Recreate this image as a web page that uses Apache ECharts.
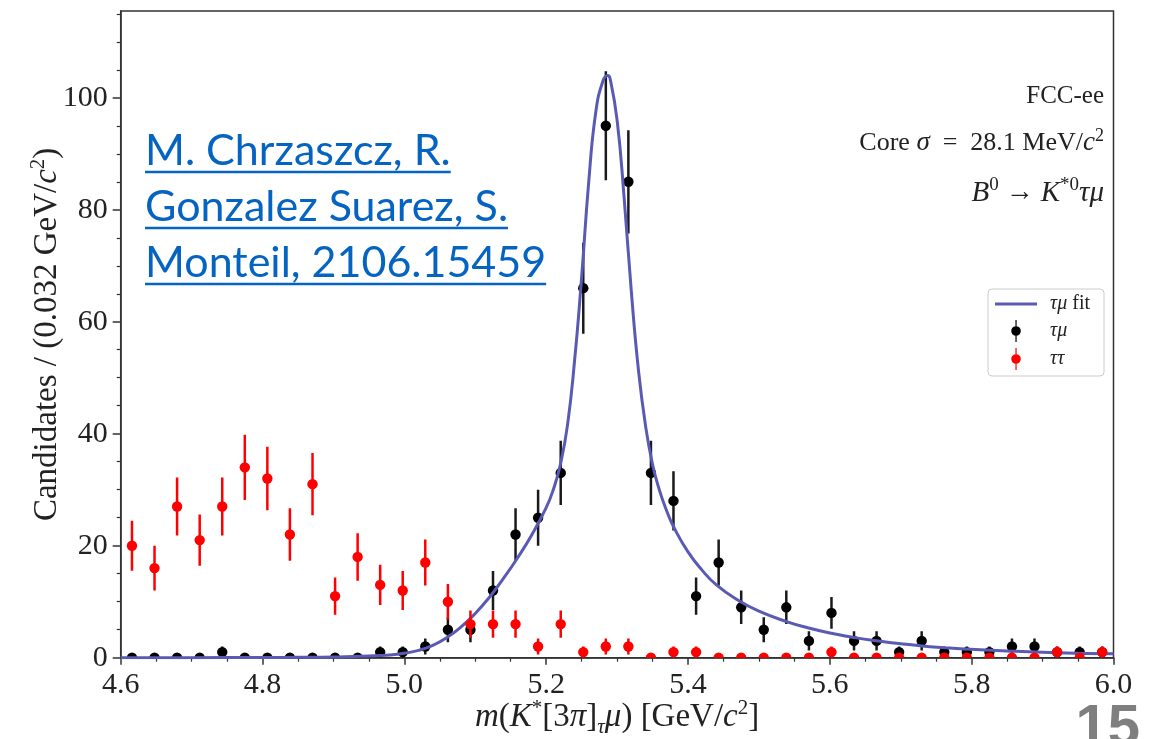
<!DOCTYPE html>
<html>
<head>
<meta charset="utf-8">
<script src="https://cdn.jsdelivr.net/npm/echarts@6/dist/echarts.min.js"></script>
<style>
    html, body { margin: 0; padding: 0; background: #fff; }
    #main { width: 1150px; height: 739px; }
</style>
</head>
<body>
<div id="main"></div>
<script>
// bin centres, 44 bins of 0.0318 GeV between 4.6 and 6.0
var binCenters = [4.6159, 4.6477, 4.6795, 4.7114, 4.7432, 4.7750, 4.8068, 4.8386, 4.8705, 4.9023,
    4.9341, 4.9659, 4.9977, 5.0295, 5.0614, 5.0932, 5.1250, 5.1568, 5.1886, 5.2205,
    5.2523, 5.2841, 5.3159, 5.3477, 5.3795, 5.4114, 5.4432, 5.4750, 5.5068, 5.5386,
    5.5705, 5.6023, 5.6341, 5.6659, 5.6977, 5.7295, 5.7614, 5.7932, 5.8250, 5.8568,
    5.8886, 5.9205, 5.9523, 5.9841];
// tau mu candidates (black)
var tauMuCounts = [0, 0, 0, 0, 1, 0, 0, 0, 0, 0,
    0, 1, 1, 2, 5, 5, 12, 22, 25, 33,
    66, 95, 85, 33, 28, 11, 17, 9, 5, 9,
    3, 8, 3, 3, 1, 3, 1, 1, 1, 2,
    2, 1, 1, 1];
// tau tau candidates (red)
var tauTauCounts = [20, 16, 27, 21, 27, 34, 32, 22, 31, 11,
    18, 13, 12, 17, 10, 6, 6, 6, 2, 6,
    1, 2, 2, 0, 1, 1, 0, 0, 0, 0,
    0, 1, 0, 0, 0, 0, 0, 0, 0, 0,
    0, 1, 0, 1];
// fit curve
var fitMass = [4.60, 4.70, 4.80, 4.85, 4.90, 4.95, 4.98, 5.00, 5.02, 5.04,
    5.06, 5.08, 5.10, 5.12, 5.14, 5.16, 5.18, 5.20, 5.21, 5.22,
    5.23, 5.24, 5.25, 5.26, 5.27, 5.28, 5.2865, 5.29, 5.30, 5.31,
    5.32, 5.33, 5.34, 5.35, 5.36, 5.37, 5.38, 5.40, 5.42, 5.44,
    5.47, 5.50, 5.54, 5.57, 5.60, 5.63, 5.66, 5.70, 5.73, 5.76,
    5.79, 5.85, 5.92, 6.00];
var fitCandidates = [0.0, 0.01, 0.03, 0.06, 0.13, 0.3, 0.5, 0.8, 1.3, 2.2,
    3.6, 5.5, 7.9, 10.8, 14.2, 17.9, 22.0, 26.8, 30.0, 34.5,
    41.5, 53, 68, 85, 97.5, 103, 104, 103.5, 96, 82,
    65.5, 51.5, 41.5, 34.5, 29.8, 26.2, 23.3, 18.9, 15.6, 13.0,
    10.3, 8.3, 6.4, 5.3, 4.4, 3.7, 3.1, 2.5, 2.1, 1.8,
    1.55, 1.2, 0.9, 0.7];
var yMajorTicks = [0, 20, 40, 60, 80, 100];
var yMinorTicks = [5, 10, 15, 25, 30, 35, 45, 50, 55, 65, 70, 75, 85, 90, 95, 105, 110, 115];
var linkLines = ['M. Chrzaszcz, R.', 'Gonzalez Suarez, S.', 'Monteil, 2106.15459'];

var serif = '"Liberation Serif", "DejaVu Serif", serif';
var textColor = '#222';
var axisColor = '#333';
var fitColor = '#5a5ab4';

var myChart = echarts.init(document.getElementById('main'));

function toPoints(counts) {
    return binCenters.map(function(x, i) {
        return [x, counts[i], Math.sqrt(counts[i])];
    });
}

function errorBarItem(dotColor, barColor) {
    return function(params, api) {
        var x = api.value(0), y = api.value(1), e = api.value(2);
        var c = api.coord([x, y]);
        var children = [];
        if (e > 0) {
            var lo = api.coord([x, y - e]);
            var hi = api.coord([x, y + e]);
            children.push({
                type: 'line',
                shape: { x1: lo[0], y1: lo[1], x2: hi[0], y2: hi[1] },
                style: { stroke: barColor, lineWidth: 2.5 }
            });
        }
        children.push({
            type: 'circle',
            shape: { cx: c[0], cy: c[1], r: 5.2 },
            style: { fill: dotColor }
        });
        return { type: 'group', children: children };
    };
}

// underline widths for the reference text
var linkFont = '43px Lato';
var ctx = document.createElement('canvas').getContext('2d');
ctx.font = linkFont;
var linkBase = [151, 207, 263];
var linkGraphics = [];
linkLines.forEach(function(t, i) {
    var w = ctx.measureText(t).width;
    linkGraphics.push({
        type: 'text', x: 145, y: linkBase[i],
        style: { text: t, font: linkFont, fill: '#0563c1', verticalAlign: 'middle' }
    });
    linkGraphics.push({
        type: 'line',
        shape: { x1: 145, y1: linkBase[i] + 21, x2: 145 + w, y2: linkBase[i] + 21 },
        style: { stroke: '#0563c1', lineWidth: 2.5 }
    });
});

var errIcon = 'path://M4.4,0 L5.6,0 L5.6,22 L4.4,22 Z M5,6.2 A4.8,4.8 0 1 1 4.99,6.2 Z';
var lineIcon = 'path://M0,0 L42,0 L42,3 L0,3 Z';

var nameRich = {
    i: { fontFamily: serif, fontStyle: 'italic', fontSize: 33, color: textColor, lineHeight: 40 },
    sup: { fontFamily: serif, fontSize: 21, color: textColor, verticalAlign: 'top', lineHeight: 21 },
    sub: { fontFamily: serif, fontStyle: 'italic', fontSize: 21, color: textColor, verticalAlign: 'bottom', lineHeight: 21 }
};

var option = {
    animation: false,
    backgroundColor: '#fff',
    grid: {
        left: 120.7,
        right: 36.5,
        top: 11,
        bottom: 81.3,
        outerBoundsMode: 'none',
        show: true,
        borderColor: axisColor,
        borderWidth: 1.5,
        backgroundColor: 'transparent'
    },
    legend: {
        orient: 'vertical',
        right: 46,
        top: 289,
        itemWidth: 42,
        itemHeight: 22,
        itemGap: 6,
        padding: [5, 14, 6, 7],
        borderColor: '#ccc',
        borderWidth: 1,
        borderRadius: 4,
        backgroundColor: '#fff',
        selectedMode: false,
        data: [{ name: 'τμ fit', icon: lineIcon }, { name: 'τμ', icon: errIcon }, { name: 'ττ', icon: errIcon }],
        formatter: function(name) {
            return name === 'τμ fit' ? '{i|τμ} fit' : '{i|' + name + '}';
        },
        textStyle: {
            fontFamily: serif,
            fontSize: 20,
            color: textColor,
            padding: [0, 0, 0, 8],
            rich: {
                i: { fontFamily: serif, fontStyle: 'italic', fontSize: 20, color: textColor }
            }
        }
    },
    xAxis: {
        type: 'value',
        min: 4.6,
        max: 6.0,
        interval: 0.2,
        name: '{i|m}({i|K}{sup|*}[3{i|π}]{sub|τ}{i|μ}) [GeV/{i|c}{sup|2}]',
        nameLocation: 'middle',
        nameGap: 40,
        nameMoveOverlap: false,
        nameTextStyle: { fontFamily: serif, fontSize: 33, color: textColor, lineHeight: 40, rich: nameRich },
        axisLine: { lineStyle: { color: axisColor, width: 1.5 } },
        axisTick: { length: 7, lineStyle: { color: axisColor, width: 1.5 } },
        minorTick: { show: true, splitNumber: 4, length: 4, lineStyle: { color: axisColor, width: 1.2 } },
        splitLine: { show: false },
        axisLabel: {
            fontFamily: serif, fontSize: 30, color: textColor, margin: 12,
            formatter: function(v) { return v.toFixed(1); }
        }
    },
    yAxis: [{
        type: 'value',
        min: 0,
        max: 115.5,
        name: 'Candidates / (0.032 GeV/{i|c}{sup|2})',
        nameLocation: 'middle',
        nameRotate: 90,
        nameGap: 53,
        nameMoveOverlap: false,
        nameTextStyle: { fontFamily: serif, fontSize: 33, color: textColor, lineHeight: 40, rich: nameRich },
        axisLine: { lineStyle: { color: axisColor, width: 1.5 } },
        axisTick: { length: 8, customValues: yMajorTicks, lineStyle: { color: axisColor, width: 1.5 } },
        splitLine: { show: false },
        axisLabel: { customValues: yMajorTicks, fontFamily: serif, fontSize: 30, color: textColor, margin: 13 }
    }, {
        type: 'value',
        min: 0,
        max: 115.5,
        position: 'left',
        axisLine: { show: false },
        axisTick: { length: 4, customValues: yMinorTicks, lineStyle: { color: axisColor, width: 1.2 } },
        axisLabel: { show: false },
        splitLine: { show: false }
    }],
    graphic: linkGraphics.concat([
        {
            type: 'text', x: 1104, y: 96,
            style: { text: 'FCC-ee', font: '25px ' + serif, fill: textColor, align: 'right', verticalAlign: 'middle' }
        },
        {
            type: 'text', x: 1104, y: 143,
            style: {
                text: 'Core {i|σ}  =  28.1 MeV/{i|c}{sup|2}',
                font: '26px ' + serif, fill: textColor, align: 'right', verticalAlign: 'middle',
                lineHeight: 32,
                rich: {
                    i: { fontFamily: serif, fontStyle: 'italic', fontSize: 27, fill: textColor, lineHeight: 32 },
                    sup: { fontFamily: serif, fontSize: 18, fill: textColor, verticalAlign: 'top', lineHeight: 18 }
                }
            }
        },
        {
            type: 'text', x: 1104, y: 193,
            style: {
                text: '{i|B}{sup|0} → {i|K}{sup|*0}{i|τμ}',
                font: '28px ' + serif, fill: textColor, align: 'right', verticalAlign: 'middle',
                lineHeight: 34,
                rich: {
                    i: { fontFamily: serif, fontStyle: 'italic', fontSize: 29, fill: textColor, lineHeight: 34 },
                    sup: { fontFamily: serif, fontSize: 19, fill: textColor, verticalAlign: 'top', lineHeight: 19 }
                }
            }
        },
        {
            type: 'text', x: 1140, y: 729,
            style: { text: '15', font: 'bold 58px "Liberation Sans"', fill: '#7f7f7f', align: 'right', verticalAlign: 'middle' }
        }
    ]),
    series: [{
            name: 'τμ fit',
            type: 'line',
            data: fitMass.map(function(x, i) { return [x, fitCandidates[i]]; }),
            showSymbol: false,
            symbol: 'none',
            smooth: 0.5,
            color: fitColor,
            lineStyle: { color: fitColor, width: 3 },
            z: 3
        },
        {
            name: 'τμ',
            type: 'custom',
            clip: true,
            itemStyle: { color: '#000' },
            renderItem: errorBarItem('#000', '#1a1a1a'),
            data: toPoints(tauMuCounts),
            z: 2
        },
        {
            name: 'ττ',
            type: 'custom',
            clip: true,
            itemStyle: { color: '#ff0000' },
            renderItem: errorBarItem('#ff0000', '#ff0000'),
            data: toPoints(tauTauCounts),
            z: 4
        }
    ]
};

window.addEventListener('resize', function() {
    myChart.resize();
});
myChart.setOption(option);
</script>
</body>
</html>
